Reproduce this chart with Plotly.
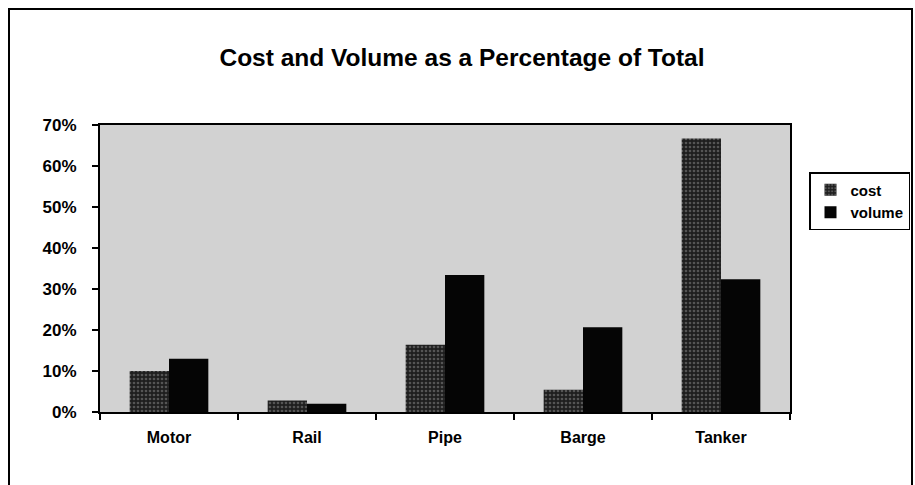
import plotly.graph_objects as go

categories = ["Motor", "Rail", "Pipe", "Barge", "Tanker"]
cost = [0.100, 0.028, 0.164, 0.054, 0.667]
volume = [0.130, 0.020, 0.334, 0.207, 0.324]
y_ticks = [0, 0.1, 0.2, 0.3, 0.4, 0.5, 0.6, 0.7]
y_tick_text = ["0%", "10%", "20%", "30%", "40%", "50%", "60%", "70%"]

FONT = "Liberation Sans, Arial, sans-serif"

W, H = 915, 485
# plot area in page pixels
PL, PR, PT, PB = 100, 790, 125, 412
L = PL
R = W - PR
T = PT
B = H - PB
pw = PR - PL
ph = PB - PT


def px_x(px):
    return (px - PL) / pw


def px_y(py):
    return (PB - py) / ph


fig = go.Figure()
fig.add_trace(go.Bar(
    name="<b>cost</b>", x=categories, y=cost,
    marker=dict(color="#1e1e1e", line=dict(width=0),
                pattern=dict(shape=".", fgcolor="#8c8c8c", size=4, solidity=0.35)),
))
fig.add_trace(go.Bar(
    name="<b>volume</b>", x=categories, y=volume,
    marker=dict(color="#050505", line=dict(width=0)),
))

fig.add_shape(type="rect", xref="paper", yref="paper",
              x0=px_x(9), x1=px_x(912),
              y0=px_y(500), y1=px_y(9),
              line=dict(color="black", width=2), fillcolor="rgba(0,0,0,0)",
              layer="below")

fig.update_layout(
    width=W, height=H,
    margin=dict(l=L, r=R, t=T, b=B, pad=0, autoexpand=False),
    paper_bgcolor="white",
    plot_bgcolor="#d2d2d2",
    barmode="group",
    bargap=0.43,
    bargroupgap=0,
    font=dict(family=FONT, color="black", size=16),
    title=dict(text="<b>Cost and Volume as a Percentage of Total</b>",
               x=px_x(462), xref="paper", xanchor="center",
               y=(H - 57) / H, yanchor="middle",
               font=dict(family=FONT, size=24.5, color="black")),
    legend=dict(x=px_x(809), y=px_y(172), xanchor="left", yanchor="top",
                bordercolor="black", borderwidth=1.5, bgcolor="white",
                font=dict(family=FONT, size=15, color="black"),
                itemwidth=30),
    showlegend=True,
)

fig.update_xaxes(
    showline=True, linecolor="black", linewidth=2, mirror=True,
    ticks="outside", ticklen=6, tickcolor="black", tickwidth=1.5,
    tickson="boundaries", showgrid=False,
    tickvals=categories, ticktext=["<b>%s</b>" % c for c in categories],
    tickfont=dict(family=FONT, size=16, color="black"),
    ticklabelstandoff=10,
)
fig.update_yaxes(
    range=[0, 0.7], tickvals=y_ticks, ticktext=["<b>%s</b>" % t for t in y_tick_text],
    showline=True, linecolor="black", linewidth=2, mirror=True,
    ticks="outside", ticklen=6, tickcolor="black", tickwidth=1.5,
    showgrid=False, zeroline=False,
    tickfont=dict(family=FONT, size=17, color="black"),
    ticklabelstandoff=12,
)

fig.write_html(
    "out.html",
    config={"displayModeBar": False},
    post_script="document.body.style.margin='0';document.body.style.overflow='hidden';",
)
